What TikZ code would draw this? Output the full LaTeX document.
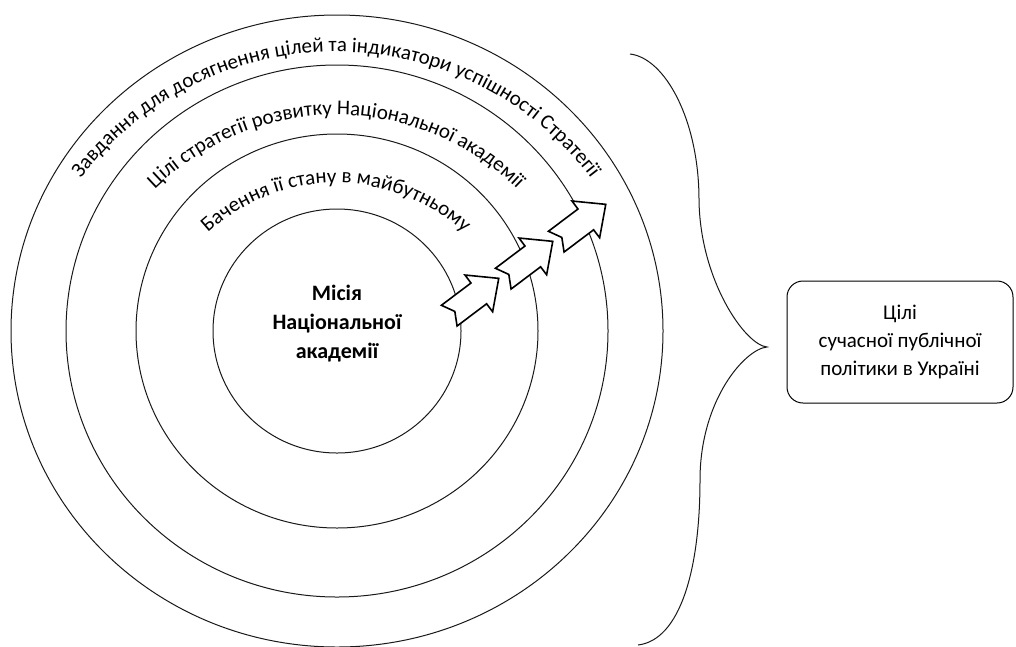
\documentclass[tikz,border=0pt]{standalone}
\usepackage{fontspec}
\setmainfont{Carlito}
\usepackage{tikz}
\usetikzlibrary{positioning, decorations.text}
\newcommand{\ringfont}{\fontsize{21}{28}\selectfont}
\newcommand{\missionfont}{\bfseries\fontsize{22}{29}\selectfont}
\tikzset{
    x=1pt, y=1pt,                               % one unit is one pixel of the page
    ring/.style={draw=black!90, line width=1pt},  % the circles and the brace
    goal/.style={draw, line width=1pt, rounded corners=16pt,
        minimum width=226pt, minimum height=122pt, align=center, font=\ringfont},
    arctext/.style={decorate, decoration={text along path, text align=center,
        text={|\ringfont|#1}}},                 % text bent along a ring
    push/.pic={                                 % notched block arrow
        \draw[fill=white, line width=1.6pt, line join=miter]
        (-31,13) -- (6,13) -- (6,23) -- (31,0) -- (6,-23) -- (6,-13) -- (-31,-13) -- (-24,0) -- cycle;
    },
}

\begin{document}
\begin{tikzpicture}

\useasboundingbox (0,0) rectangle (1016,-646);

\coordinate (c) at (337,-331);
\coordinate (t) at (336,-373);   % centre of the bent texts

\draw[ring] (c) ellipse[x radius=326, y radius=316];
\draw[ring] (c) ellipse[x radius=271, y radius=266];
\draw[ring] (c) ellipse[x radius=201, y radius=197];
\draw[ring] (c) ellipse[x radius=124, y radius=122];

\path[arctext={Завдання для досягнення цілей та індикатори успішності  Стратегії}]
    (t) ++(165:321) arc[start angle=165, end angle=15, radius=321];
\path[arctext={Цілі стратегії розвитку Національної академії}]
    (t) ++(160:258) arc[start angle=160, end angle=20, radius=258];
\path[arctext={Бачення її стану в майбутньому}]
    (t) ++(160:190) arc[start angle=160, end angle=20, radius=190];

\node[font=\missionfont, align=center] (mission) at (337,-324) {Місія\\Національної\\академії};

\foreach \x/\y in {474/-297, 528/-260, 581/-223}
    \pic[rotate=37] at (\x,\y) {push};

\node[goal] (goal) at (900,-342) {Цілі\\сучасної публічної\\політики в Україні};

\draw[ring] (630,-54) .. controls (665,-58) and (699,-120) .. (699,-200)
    .. controls (700,-280) and (745,-345) .. (767,-347) coordinate (tip)
    .. controls (745,-349) and (700,-400) .. (700,-480)
    .. controls (700,-570) and (680,-640) .. (638,-645);

\end{tikzpicture}
\end{document}
